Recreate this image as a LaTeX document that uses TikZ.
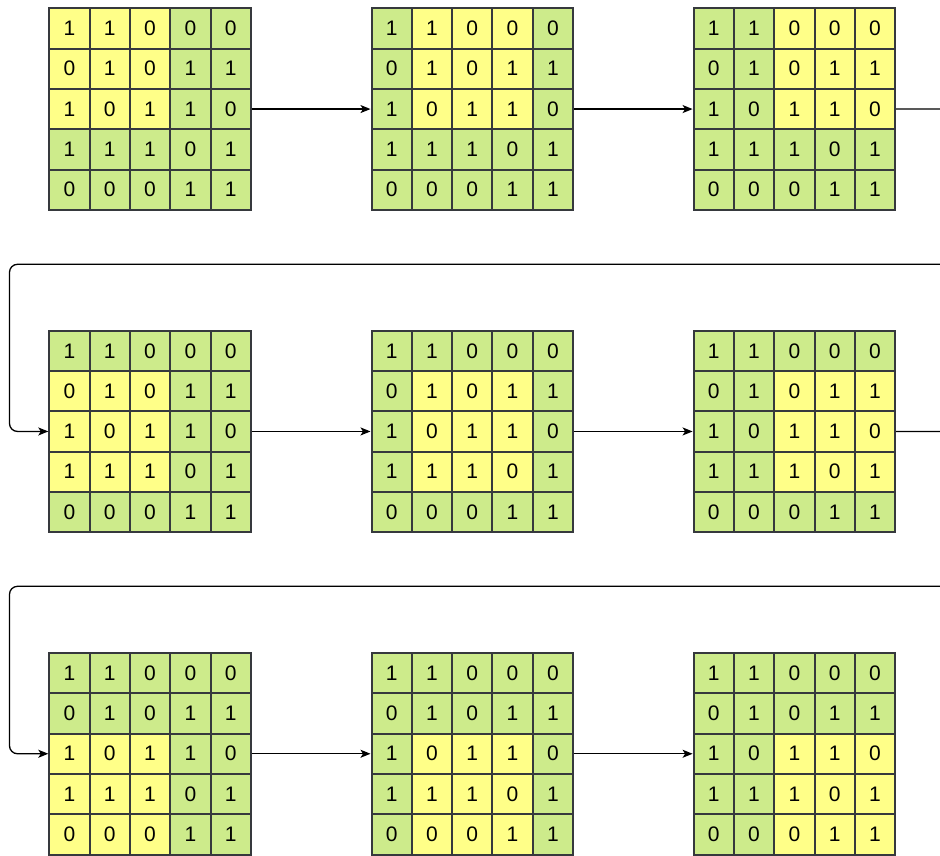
\documentclass[tikz,border=0pt]{standalone}
\usepackage{fontspec}
\setmainfont{Liberation Sans}
\usetikzlibrary{arrows.meta}
\definecolor{cellyel}{HTML}{FFFF88}
\definecolor{cellgrn}{HTML}{CDEB8B}
\definecolor{cellbord}{HTML}{36393D}
\begin{document}
\begin{tikzpicture}[x=1pt,y=-1pt,
  cell/.style={draw=cellbord,line width=2pt,minimum width=40.3pt,minimum height=40.3pt,inner sep=0pt,outer sep=0pt,text=black,font=\fontsize{21}{25}\selectfont},
  gridbox/.style={minimum width=201.5pt,minimum height=201.5pt,inner sep=0pt,outer sep=1pt},
  conn/.style={draw=black,line width=1.3pt,-{Stealth[length=10pt,width=8pt,inset=2.5pt]}},
  link/.style={draw=black,line width=1.3pt}]
\useasboundingbox (0,0) rectangle (940,855);
\foreach \k/\gx/\gy/\wr/\wc in {1/49.3/8.3/1/1, 2/371.5/8.3/1/2, 3/693.6/8.3/1/3,
                                 4/49.3/330.7/2/1, 5/371.5/330.7/2/2, 6/693.6/330.7/2/3,
                                 7/49.3/653/3/1, 8/371.5/653/3/2, 9/693.6/653/3/3} {
  \node[gridbox] (G\k) at ({\gx+100.75},{\gy+100.75}) {};
  \foreach \r/\vals in {1/{1,1,0,0,0},2/{0,1,0,1,1},3/{1,0,1,1,0},4/{1,1,1,0,1},5/{0,0,0,1,1}} {
    \foreach \v [count=\c] in \vals {
      \pgfmathtruncatemacro\isy{(\r>=\wr)&&(\r<=\wr+2)&&(\c>=\wc)&&(\c<=\wc+2)}
      \ifnum\isy=1 \def\fc{cellyel}\else\def\fc{cellgrn}\fi
      \node[cell,fill=\fc] (g\k-\r-\c) at ({\gx+(\c-0.5)*40.3},{\gy+(\r-0.5)*40.3}) {\v};
    }
  }
}
\coordinate (R1) at (940,109);
\coordinate (R2) at (940,264.3);
\coordinate (L2) at (9.5,264.3);
\coordinate (R3) at (940,431.5);
\coordinate (R4) at (940,586.3);
\coordinate (L4) at (9.5,586.3);
\draw[conn] (G1.east) -- (G2.west);
\draw[conn] (G2.east) -- (G3.west);
\draw[link] (G3.east) -- (R1);
\draw[conn,rounded corners=8pt] (R2) -- (L2) |- (G4.west);
\draw[conn] (G4.east) -- (G5.west);
\draw[conn] (G5.east) -- (G6.west);
\draw[link] (G6.east) -- (R3);
\draw[conn,rounded corners=8pt] (R4) -- (L4) |- (G7.west);
\draw[conn] (G7.east) -- (G8.west);
\draw[conn] (G8.east) -- (G9.west);
\end{tikzpicture}
\end{document}
